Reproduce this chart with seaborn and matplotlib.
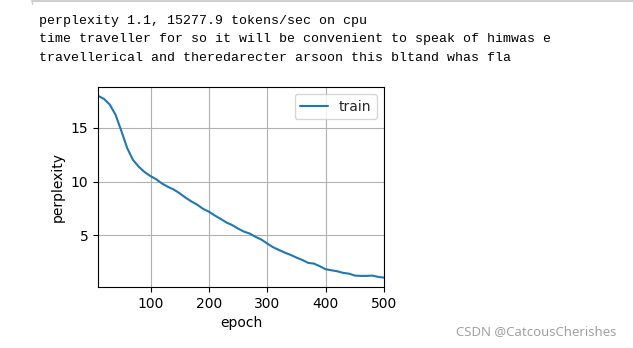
import matplotlib
matplotlib.use("Agg")
import matplotlib.pyplot as plt
import seaborn as sns
import pandas as pd
from matplotlib.lines import Line2D

epochs = list(range(10, 501, 10))
perplexity = [17.95, 17.68, 17.15, 16.2, 14.7, 13.1, 12.0, 11.36, 10.87, 10.5,
              10.2, 9.8, 9.5, 9.25, 8.9, 8.5, 8.15, 7.85, 7.46, 7.2,
              6.85, 6.53, 6.2, 5.95, 5.63, 5.35, 5.17, 4.86, 4.61, 4.24,
              3.9, 3.65, 3.4, 3.19, 2.94, 2.72, 2.45, 2.38, 2.14, 1.86,
              1.76, 1.67, 1.52, 1.45, 1.27, 1.24, 1.24, 1.27, 1.15, 1.08]
x_ticks = [100, 200, 300, 400, 500]
y_ticks = [5, 10, 15]
console_lines = [
    "perplexity 1.1, 15277.9 tokens/sec on cpu",
    "time traveller for so it will be convenient to speak of himwas e",
    "travellerical and theredarecter arsoon this bltand whas fla",
]
watermark = "CSDN @CatcousCherishes"

sns.set_theme(style="ticks")
plt.rcParams["font.family"] = ["DejaVu Sans"]

df = pd.DataFrame({"epoch": epochs, "perplexity": perplexity, "series": "train"})

fig = plt.figure(figsize=(6.33, 3.48), dpi=100)
fig.patch.set_facecolor("white")
W, H = 633, 348
ax = fig.add_axes([98 / W, 1 - 287 / H, (384 - 98) / W, (287 - 87) / H])

sns.lineplot(data=df, x="epoch", y="perplexity", hue="series",
             palette=["#1f77b4"], linewidth=1.5, ax=ax)
ax.set_xlim(10, 500)
ax.set_ylim(0.21, 18.77)
ax.set_xticks(x_ticks)
ax.set_yticks(y_ticks)
ax.grid(True, color="#b0b0b0", linewidth=0.8)
for s in ax.spines.values():
    s.set_color("black")
    s.set_linewidth(0.8)
    s.set_visible(True)
ax.tick_params(labelsize=10, colors="black", length=3.5, width=0.8)
ax.set_xlabel("epoch", fontsize=10, color="black", labelpad=4)
ax.set_ylabel("perplexity", fontsize=10, color="black", labelpad=4)
leg = ax.legend(loc="upper right", fontsize=10, frameon=True, title=None)
leg.get_frame().set_edgecolor("#cccccc")

# console text
for i, line in enumerate(console_lines):
    fig.text(39 / W, 1 - (21 + i * 18.3) / H, line, family="Liberation Mono",
             fontsize=9.55, color="black", va="center", ha="left")

# top border line
fig.add_artist(Line2D([32 / W, 1], [1 - 0.8 / H, 1 - 0.8 / H], color="#cfcfcf", linewidth=1.5))
fig.add_artist(Line2D([32 / W, 32 / W], [1 - 0.8 / H, 1 - 4 / H], color="#cfcfcf", linewidth=1.0))

fig.text(456 / W, 1 - 332 / H, watermark, family="Noto Sans", fontsize=9.5,
         color="#a0a0a0", va="center", ha="left")

fig.savefig("out.png", dpi=100, facecolor="white")
